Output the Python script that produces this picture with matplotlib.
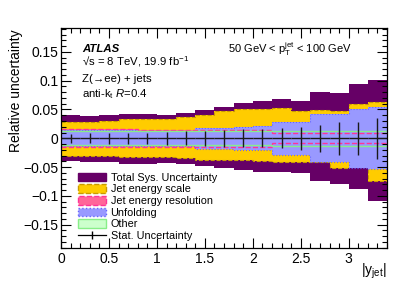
import numpy as np
import matplotlib
matplotlib.use("Agg")
from matplotlib import pyplot as plt
from matplotlib.patches import Patch
from matplotlib.lines import Line2D
from matplotlib.ticker import MultipleLocator, FuncFormatter

plt.rcParams['font.family'] = ['Liberation Sans', 'DejaVu Sans']
plt.rcParams['mathtext.fontset'] = 'custom'
plt.rcParams['mathtext.rm'] = 'Liberation Sans'
plt.rcParams['mathtext.it'] = 'Liberation Sans:italic'
plt.rcParams['mathtext.bf'] = 'Liberation Sans:bold'

# bins in |y_jet|
y_edges = [0.0, 0.2, 0.4, 0.6, 0.8, 1.0, 1.2, 1.4, 1.6, 1.8, 2.0,
           2.2, 2.4, 2.6, 2.8, 3.0, 3.2, 3.4]

# relative uncertainties (upper / lower)
total_up = [0.040, 0.039, 0.041, 0.043, 0.042, 0.041, 0.044, 0.049, 0.055,
            0.061, 0.064, 0.068, 0.064, 0.080, 0.078, 0.094, 0.101]
total_dn = [-0.040, -0.041, -0.042, -0.045, -0.044, -0.043, -0.045, -0.049, -0.052,
            -0.055, -0.058, -0.059, -0.061, -0.075, -0.080, -0.089, -0.109]
jes_up = [0.029, 0.028, 0.030, 0.033, 0.033, 0.034, 0.037, 0.040, 0.048,
          0.051, 0.051, 0.052, 0.047, 0.049, 0.048, 0.059, 0.063]
jes_dn = [-0.030, -0.031, -0.031, -0.033, -0.033, -0.033, -0.034, -0.037, -0.038,
          -0.038, -0.039, -0.041, -0.041, -0.041, -0.051, -0.048, -0.075]
jer_up = [0.016, 0.016, 0.016, 0.016, 0.015, 0.015, 0.015, 0.015, 0.015,
          0.015, 0.015, 0.009, 0.009, 0.009, 0.009, 0.009, 0.009]
jer_dn = [-0.015, -0.015, -0.015, -0.015, -0.015, -0.015, -0.015, -0.015, -0.015,
          -0.015, -0.015, -0.008, -0.008, -0.008, -0.008, -0.008, -0.008]
unf_up = [0.014, 0.014, 0.014, 0.014, 0.013, 0.013, 0.013, 0.018, 0.018,
          0.020, 0.021, 0.029, 0.029, 0.043, 0.042, 0.050, 0.054]
unf_dn = [-0.013, -0.013, -0.013, -0.013, -0.013, -0.013, -0.013, -0.018, -0.019,
          -0.020, -0.021, -0.029, -0.029, -0.041, -0.042, -0.051, -0.054]
other_up = [0.012, 0.012, 0.012, 0.012, 0.012, 0.012, 0.012, 0.012, 0.012,
            0.012, 0.012, 0.013, 0.013, 0.013, 0.013, 0.013, 0.013]
other_dn = [-0.012, -0.012, -0.012, -0.012, -0.012, -0.012, -0.012, -0.012, -0.012,
            -0.012, -0.012, -0.013, -0.013, -0.013, -0.013, -0.013, -0.013]
stat = [0.008, 0.009, 0.010, 0.010, 0.010, 0.011, 0.012, 0.013, 0.015,
        0.016, 0.016, 0.017, 0.020, 0.023, 0.029, 0.029, 0.036]

c_total = '#660066'
c_jes, c_jes_edge = '#ffcc00', '#c89b00'
c_jer, c_jer_edge = '#ff6699', '#ff3399'
c_unf, c_unf_edge = '#9999ff', '#6666ff'
c_oth, c_oth_edge = '#ccffcc', '#88ee88'

edges = np.array(y_edges)
centers = 0.5 * (edges[1:] + edges[:-1])
halfw = 0.5 * (edges[1:] - edges[:-1])

fig = plt.figure(figsize=(4.07, 2.92), dpi=100)
ax = fig.add_axes([0.150, 0.150, 0.801, 0.753])

# filled bands, largest first
ax.stairs(total_up, edges, baseline=total_dn, fill=True, color=c_total, lw=0)
ax.stairs(jes_up, edges, baseline=jes_dn, fill=True, color=c_jes, lw=0)
for v in (jes_up, jes_dn):
    ax.stairs(v, edges, baseline=None, color=c_jes_edge, ls='--', lw=0.8)
ax.stairs(jer_up, edges, baseline=jer_dn, fill=True, color=c_jer, lw=0)
ax.stairs(unf_up, edges, baseline=unf_dn, fill=True, color=c_unf, lw=0)
for v in (unf_up, unf_dn):
    ax.stairs(v, edges, baseline=None, color=c_unf_edge, ls=':', lw=0.8)
for v in (jer_up, jer_dn):
    ax.stairs(v, edges, baseline=None, color=c_jer_edge, ls='--', lw=1.0)
for v in (other_up, other_dn):
    ax.stairs(v, edges, baseline=None, color=c_oth_edge, lw=1.0)

# stat errors
ax.errorbar(centers, np.zeros(len(centers)), xerr=halfw, yerr=stat,
            fmt='none', ecolor='#1a1a1a', elinewidth=1.0, capsize=0)

ax.set_xlim(0, 3.4)
ax.set_ylim(-0.191, 0.191)
ax.xaxis.set_major_locator(MultipleLocator(0.5))
ax.xaxis.set_minor_locator(MultipleLocator(0.1))
ax.yaxis.set_major_locator(MultipleLocator(0.05))
ax.yaxis.set_minor_locator(MultipleLocator(0.01))
fmt = FuncFormatter(lambda v, p: ('%g' % round(v, 4)).replace('-', '\u2212'))
ax.xaxis.set_major_formatter(fmt)
ax.yaxis.set_major_formatter(fmt)
ax.tick_params(which='both', direction='in', top=True, right=True, width=0.8,
               labelsize=10)
ax.tick_params(which='major', length=7)
ax.tick_params(which='minor', length=3.5)
ax.tick_params(axis='x', pad=3)
ax.tick_params(axis='y', pad=2)
for s in ax.spines.values():
    s.set_linewidth(0.9)

fig.text(16 / 407, 1 - 29 / 292, 'Relative uncertainty', rotation=90,
         ha='center', va='top', fontsize=10)
fig.text(387 / 407, 1 - 262 / 292, r'|y$_{\mathrm{jet}}$|', ha='right', va='top',
         fontsize=10)

# labels
ax.text(0.064, 0.891, 'ATLAS', transform=ax.transAxes, fontsize=8.2,
        fontweight='bold', fontstyle='italic', va='baseline')
ax.text(0.064, 0.829, '\u221as = 8 TeV, 19.9 fb$^{-1}$', transform=ax.transAxes,
        fontsize=8.2, va='baseline')
ax.text(0.064, 0.758, 'Z(\u2192ee) + jets', transform=ax.transAxes,
        fontsize=8.2, va='baseline')
ax.text(0.064, 0.688, r'anti-k$_{\mathrm{t}}$ $R$=0.4', transform=ax.transAxes,
        fontsize=8.2, va='baseline')
ax.text(0.512, 0.890, r'50 GeV < $\mathrm{p}_{\mathrm{T}}^{\mathrm{jet}}$ < 100 GeV',
        transform=ax.transAxes, fontsize=8, va='baseline')

handles = [
    Patch(facecolor=c_total, edgecolor=c_total),
    Patch(facecolor=c_jes, edgecolor=c_jes_edge, ls='--'),
    Patch(facecolor=c_jer, edgecolor=c_jer_edge, ls='--'),
    Patch(facecolor=c_unf, edgecolor=c_unf_edge, ls=':'),
    Patch(facecolor=c_oth, edgecolor=c_oth_edge),
    Line2D([], [], color='k', lw=0.9, marker='|', markersize=6),
]
labels = ['Total Sys. Uncertainty', 'Jet energy scale', 'Jet energy resolution',
          'Unfolding', 'Other', 'Stat. Uncertainty']
ax.legend(handles, labels, loc='upper left', bbox_to_anchor=(0.052, 0.343),
          frameon=False, fontsize=7.8, borderpad=0, borderaxespad=0,
          handlelength=2.6, handleheight=0.85, handletextpad=0.4,
          labelspacing=0.14)

fig.savefig('out.png', dpi=100)
